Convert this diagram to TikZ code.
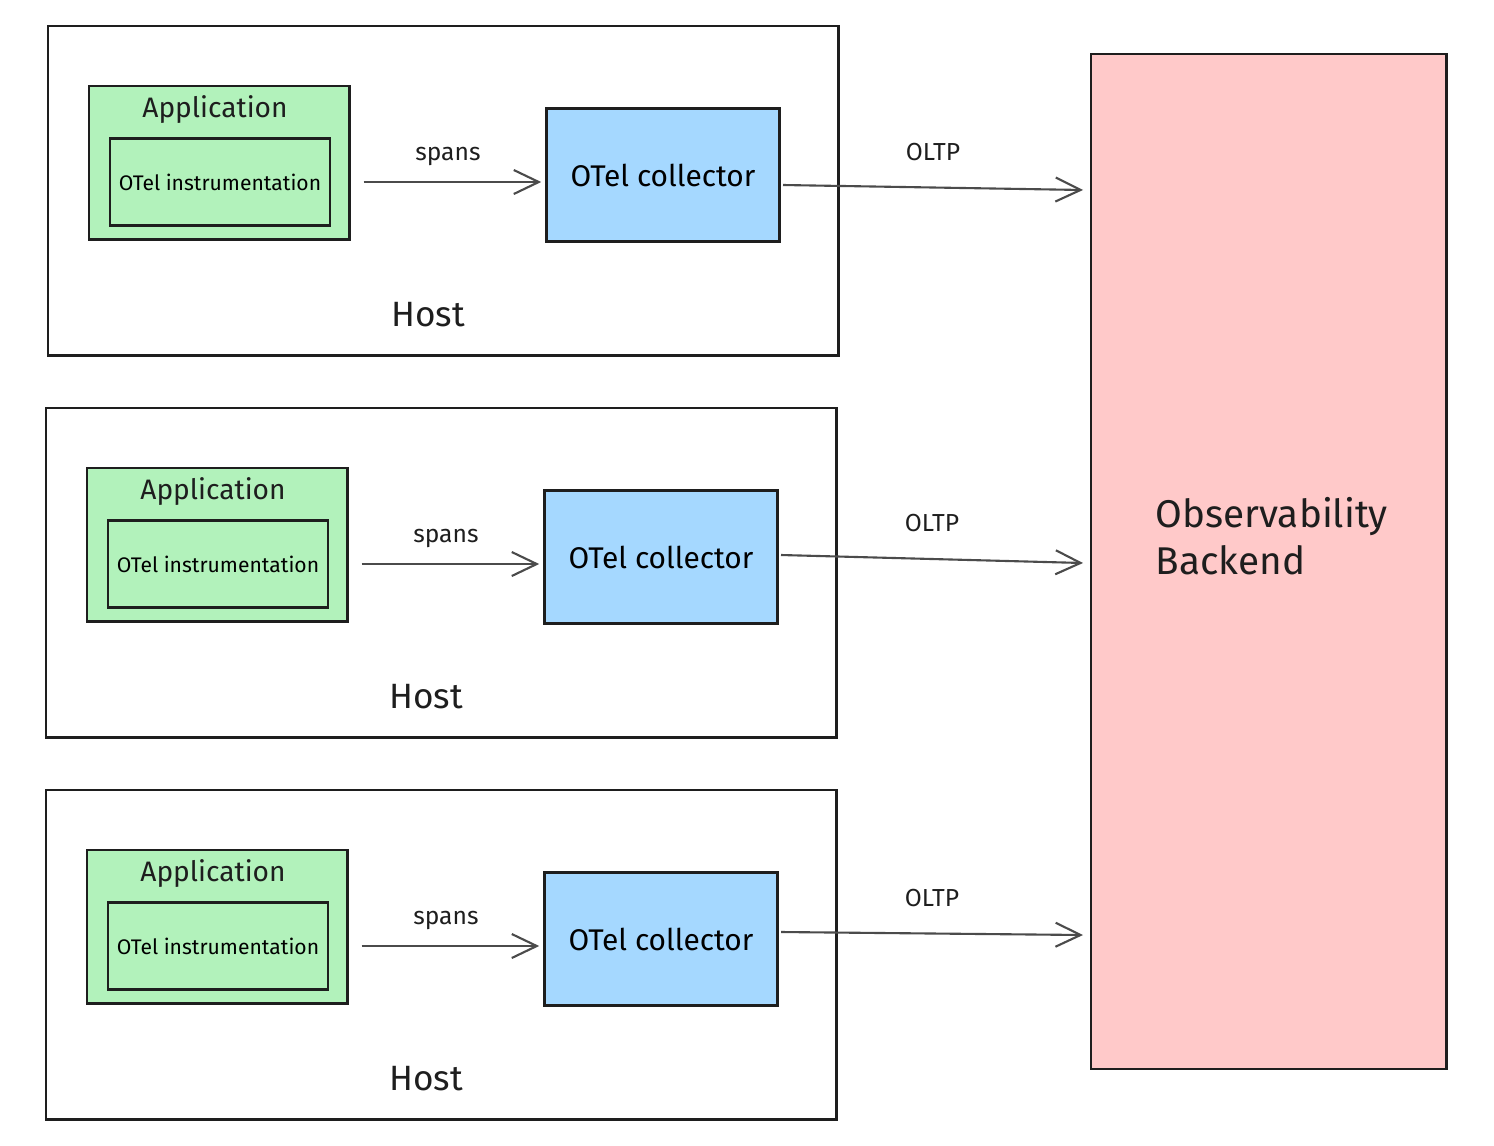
\documentclass[tikz,border=0pt]{standalone}
\usepackage{fontspec}
\setmainfont{Fira Sans}
\usetikzlibrary{arrows.meta}
\definecolor{appgreen}{RGB}{178,242,187}
\definecolor{collblue}{RGB}{165,216,255}
\definecolor{backpink}{RGB}{255,201,201}
\definecolor{ink}{RGB}{30,30,30}

\begin{document}
\begin{tikzpicture}[x=0.01cm,y=-0.01cm,
  box/.style={draw=ink, line width=0.7pt, inner sep=0pt, anchor=north west},
  flow/.style={->, draw=ink!80, line width=0.6pt, >={Straight Barb[length=0.25cm,width=0.24cm]}},
  lbl/.style={font=\fontsize{7}{8}\selectfont, text=ink}]
\useasboundingbox (0,0) rectangle (1494,1145);

% Observability backend
\node[box, fill=backpink, minimum width=3.55cm, minimum height=10.14cm] (backend) at (1090,53) {};
\node[font=\fontsize{11}{13.5}\selectfont, align=left, text=ink, anchor=west, inner sep=0pt] (backtxt) at (1155,536) {Observability\\Backend};

% Three hosts, each with application and collector
\foreach \i/\dy/\dx/\ta/\tb in {1/0/0/185/190, 2/382/-2/555/563, 3/764/-2/932/935}{
  \node[box, minimum width=7.9cm, minimum height=3.29cm] (host\i) at (47+\dx,25+\dy) {};
  \node[font=\fontsize{10}{12}\selectfont, text=ink] (hostlbl\i) at (428+\dx,315+\dy) {Host};
  % application
  \node[box, fill=appgreen, minimum width=2.6cm, minimum height=1.53cm] (app\i) at (88+\dx,85+\dy) {};
  \node[lbl, font=\fontsize{8}{9}\selectfont] (applbl\i) at (215+\dx,110+\dy) {Application};
  \node[box, fill=appgreen, minimum width=2.2cm, minimum height=0.87cm,
        font=\fontsize{6}{7}\selectfont, anchor=center] (instr\i) at (220+\dx,182+\dy) {OTel instrumentation};
  % collector
  \node[box, fill=collblue, minimum width=2.33cm, minimum height=1.33cm,
        font=\fontsize{8.5}{10}\selectfont, anchor=center] (coll\i) at (663+\dx,175+\dy) {OTel collector};
  % spans
  \draw[flow, shorten <=0.13cm, shorten >=0.04cm] (app\i.east |- instr\i.east) -- node[lbl, above=1pt] {spans} (coll\i.west |- instr\i.east);
  % OLTP
  \coordinate (in\i) at (1083,\tb);
  \coordinate (out\i) at (783+\dx,\ta);
  \draw[flow] (out\i) -- node[lbl, above=4pt, pos=0.5] {OLTP} (in\i);
}
\end{tikzpicture}
\end{document}
